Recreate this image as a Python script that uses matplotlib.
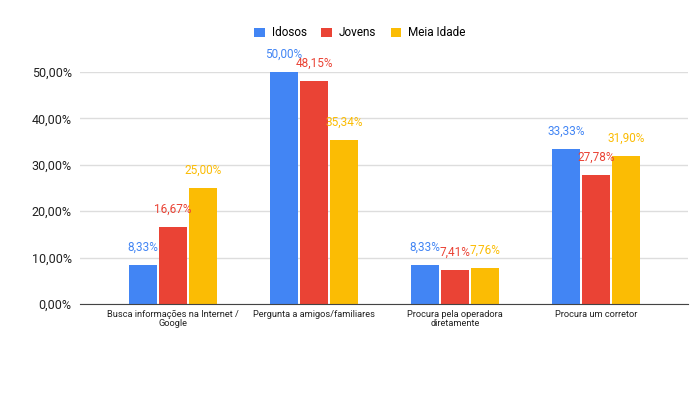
import matplotlib.pyplot as plt
import numpy as np

plt.rcParams['font.family'] = ['Roboto', 'DejaVu Sans']

categories = ['Busca informações na Internet /\nGoogle', 'Pergunta a amigos/familiares',
              'Procura pela operadora\ndiretamente', 'Procura um corretor']
idosos = [8.33, 50.00, 8.33, 33.33]
jovens = [16.67, 48.15, 7.41, 27.78]
meia_idade = [25.00, 35.34, 7.76, 31.90]
series_names = ['Idosos', 'Jovens', 'Meia Idade']
colors = ['#4285F4', '#EA4335', '#FBBC04']


def fmt(v):
    return f'{v:.2f}'.replace('.', ',') + '%'


def main():
    fig = plt.figure(figsize=(7, 3.94), dpi=100)
    ax = fig.add_axes([80 / 700, 1 - 304 / 394, 608 / 700, 232 / 394])

    x = np.arange(len(categories))
    width = 0.2
    step = 0.213
    for i, (vals, name, c) in enumerate(zip([idosos, jovens, meia_idade], series_names, colors)):
        pos = x + (i - 1) * step
        ax.bar(pos, vals, width, color=c, label=name, zorder=3)
        for px, v in zip(pos, vals):
            ax.annotate(fmt(v), (px, v), xytext=(0, 8), textcoords='offset points',
                        ha='center', va='bottom', color=c, fontsize=8.5, zorder=4)

    ax.set_xlim(-0.66, 3.65)
    ax.set_ylim(0, 50)
    ax.set_yticks([0, 10, 20, 30, 40, 50])
    ax.set_yticklabels([fmt(v) for v in [0, 10, 20, 30, 40, 50]], fontsize=9, color='#222222')
    ax.set_xticks(x)
    ax.set_xticklabels(categories, fontsize=6.7, color='#222222', linespacing=1.05)
    ax.tick_params(length=0, pad=4)
    ax.tick_params(axis='y', pad=6)
    ax.grid(axis='y', color='#dddddd', linewidth=1, zorder=0)
    for s in ['top', 'right', 'left']:
        ax.spines[s].set_visible(False)
    ax.spines['bottom'].set_color('#444444')
    ax.spines['bottom'].set_zorder(5)

    ax.legend(loc='center', bbox_to_anchor=(360 / 700, 1 - 33 / 394),
              bbox_transform=fig.transFigure, ncol=3, frameon=False, fontsize=8.5,
              handlelength=0.9, handleheight=0.9, columnspacing=1.2, handletextpad=0.6)

    fig.savefig('out.png', dpi=100)


if __name__ == '__main__':
    main()
